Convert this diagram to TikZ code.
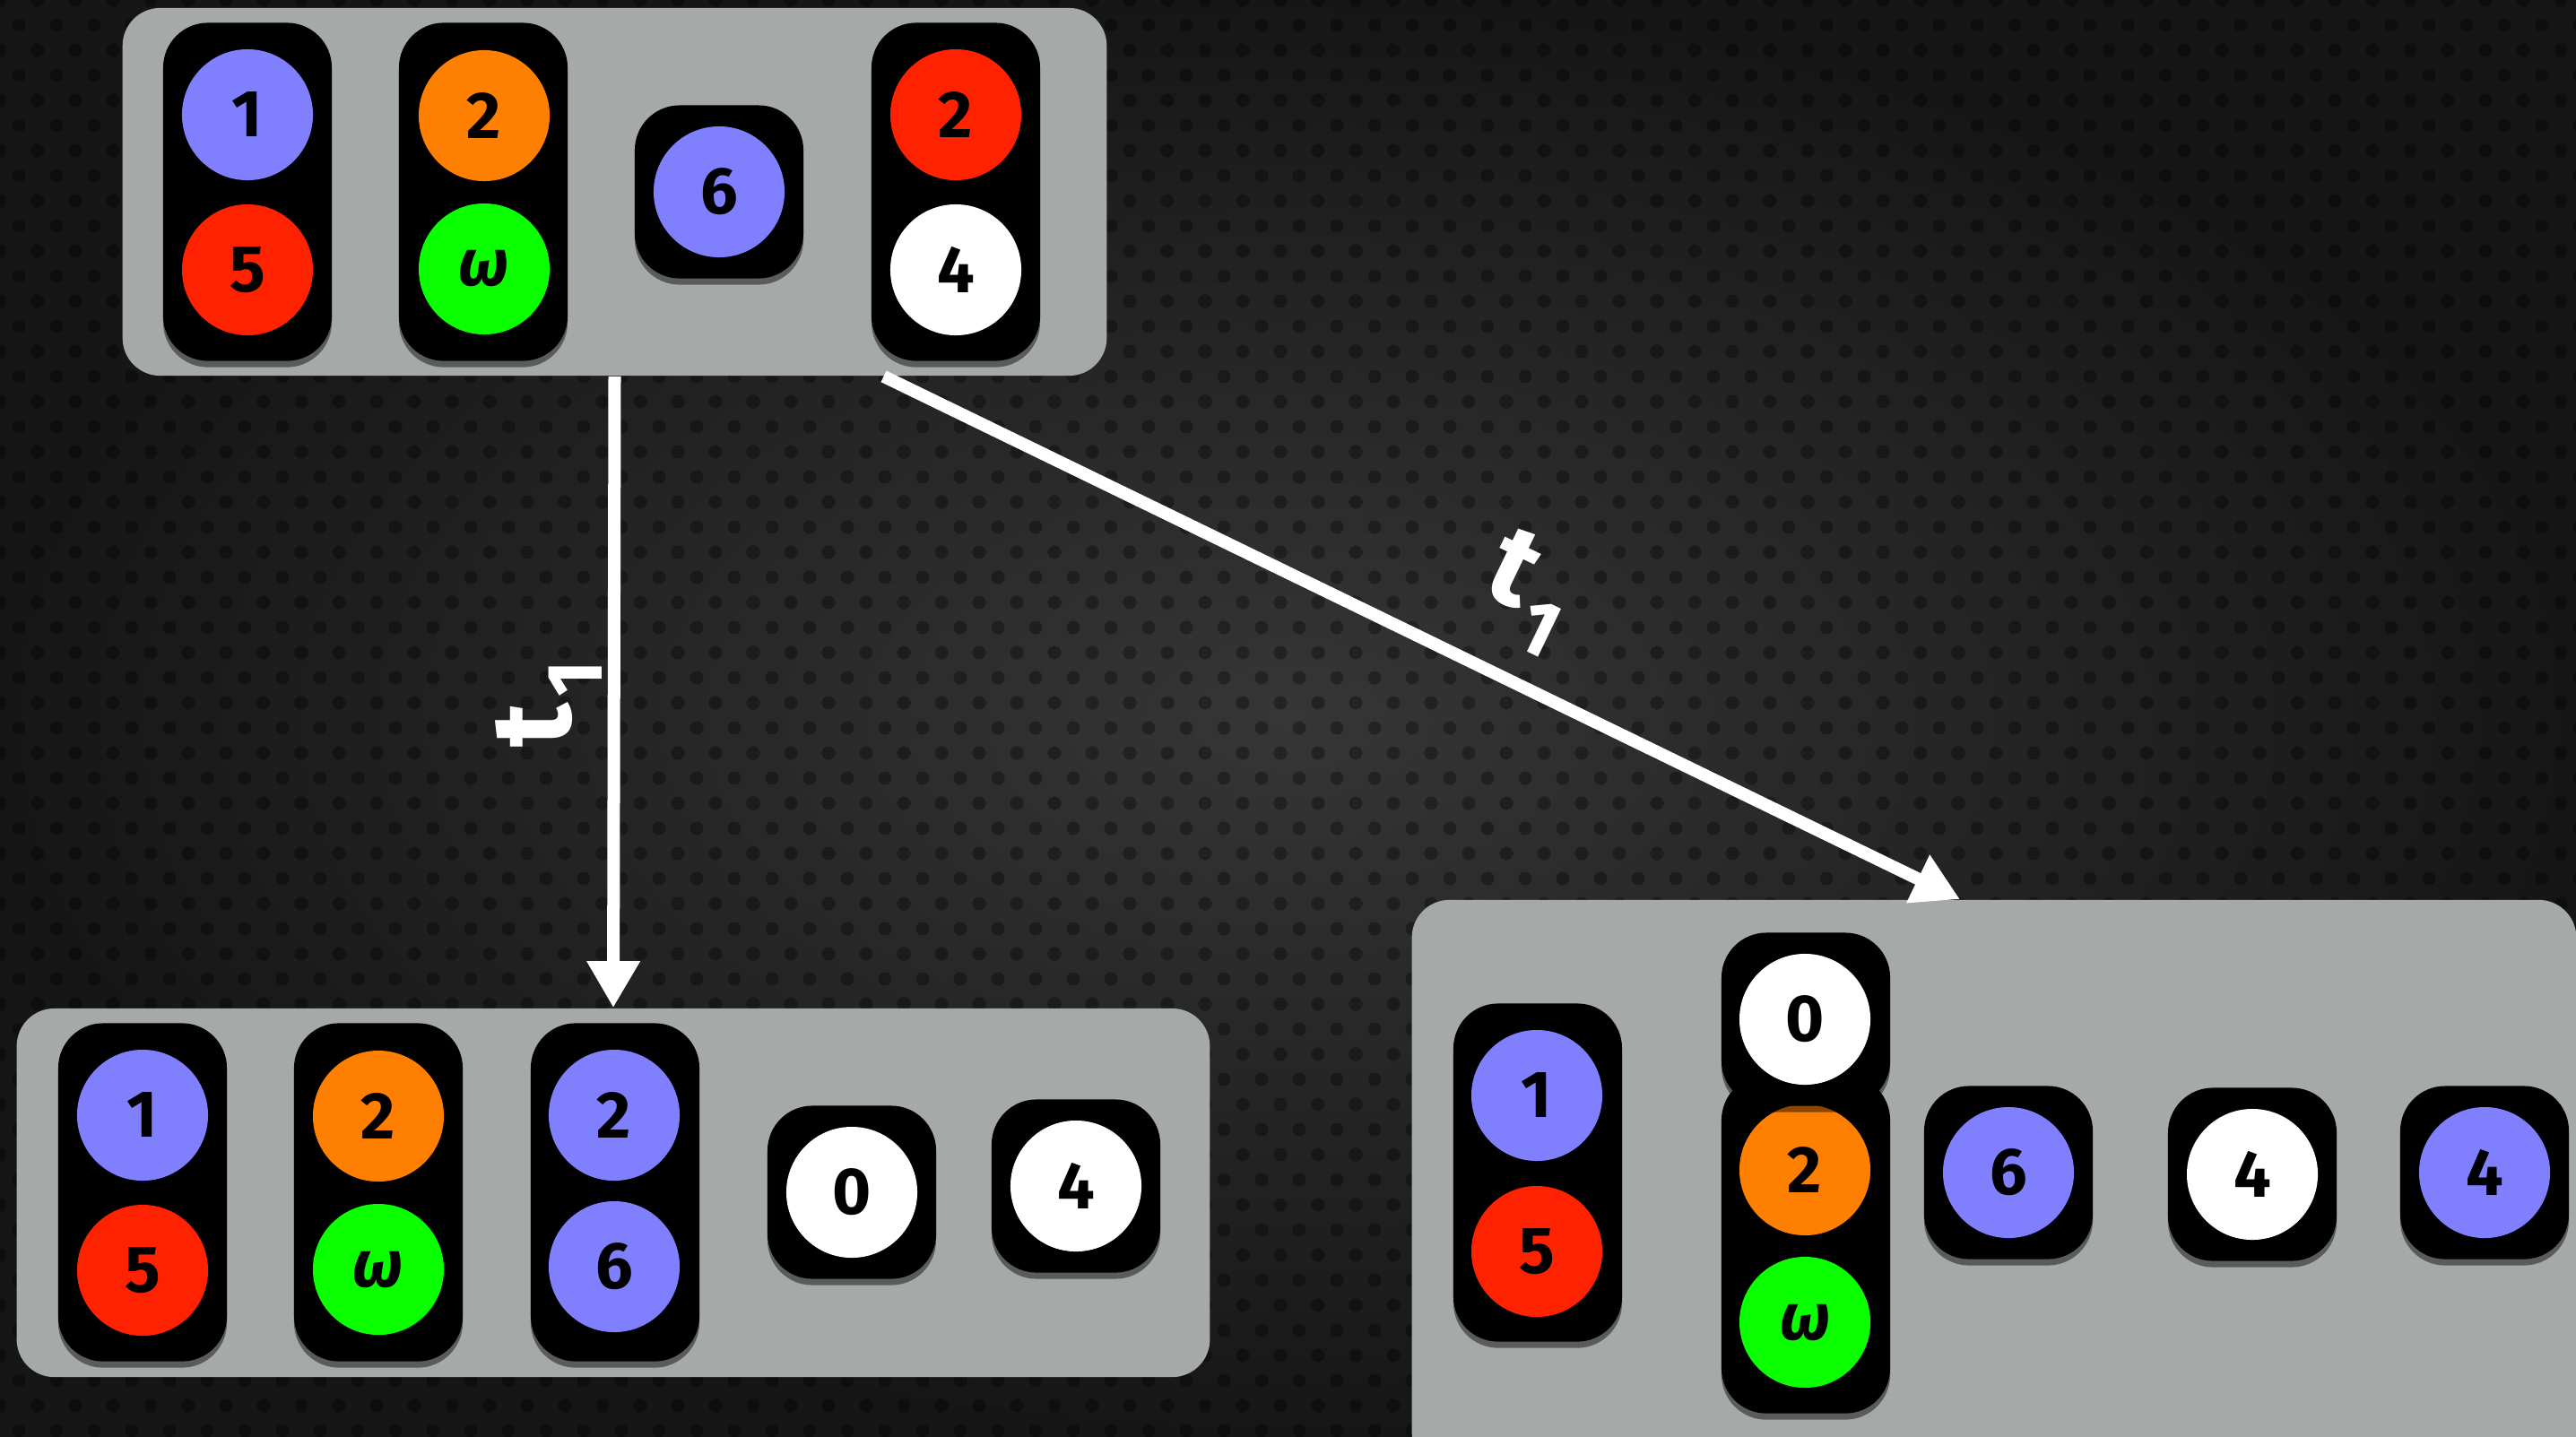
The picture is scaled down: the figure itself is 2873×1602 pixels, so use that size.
\documentclass[tikz,border=0pt]{standalone}
\usepackage{fontspec}
\setmainfont{Fira Sans}
\usetikzlibrary{arrows.meta,shadows,calc}
\definecolor{boxgrey}{HTML}{A5A9A8}
\definecolor{bpurple}{HTML}{8080FF}
\definecolor{bred}{HTML}{FF2200}
\definecolor{borange}{HTML}{FF8000}
\definecolor{bgreen}{HTML}{0AFF00}
\definecolor{bgin}{HTML}{363636}
\definecolor{bgout}{HTML}{161616}
\begin{document}
\begin{tikzpicture}[x=0.01cm,y=-0.01cm,
  grbox/.style={fill=boxgrey, rounded corners=0.42cm, inner sep=0pt, draw=none},
  pillbase/.style={fill=black, rounded corners=0.5cm, inner sep=0pt, minimum width=1.88cm,
     drop shadow={shadow xshift=0pt, shadow yshift=-0.07cm, opacity=0.45, fill=black}},
  pilltwo/.style={pillbase, minimum height=3.77cm},
  pillone/.style={pillbase, minimum height=1.93cm},
  ball/.style={circle, minimum size=1.46cm, inner sep=0pt, text=black,
     font=\fontsize{21}{25}\selectfont\bfseries},
  arr/.style={draw=white, line width=0.14cm, -{Triangle[length=0.52cm,width=0.56cm]}},
  lbl/.style={text=white, inner sep=0pt, font=\fontsize{36}{40}\selectfont\bfseries}
]
\useasboundingbox (0,0) rectangle (2873,1602);
% background
\shade[inner color=bgin, outer color=bgout] (0,0) rectangle (2873,1602);
\foreach \r in {0,...,57} {
  \fill[black, opacity=0.32] foreach \c in {0,...,69} {
   ({\c*42+mod(\r,2)*21},{\r*28}) circle[radius=7.5] };
}

% top box
\node[grbox, minimum width=10.97cm, minimum height=4.10cm] (top) at (685.5,214) {};
\node[pilltwo] (t1) at (276,214) {};
\node[ball, fill=bpurple] (t1a) at (276,128) {1};
\node[ball, fill=bred] (t1b) at (276,301) {5};
\node[pilltwo] (t2) at (539,214) {};
\node[ball, fill=borange] (t2a) at (540,129) {2};
\node[ball, fill=bgreen] (t2b) at (540,300) {\itshape ω};
\node[pillone] (t3) at (802,214) {};
\node[ball, fill=bpurple] (t3a) at (802,214) {6};
\node[pilltwo] (t4) at (1066,214) {};
\node[ball, fill=bred] (t4a) at (1066,128) {2};
\node[ball, fill=white] (t4b) at (1066,301) {4};

% bottom-left box
\node[grbox, minimum width=13.30cm, minimum height=4.11cm] (bl) at (684,1330.5) {};
\node[pilltwo] (a1) at (159,1330) {};
\node[ball, fill=bpurple] (a1a) at (159,1244) {1};
\node[ball, fill=bred] (a1b) at (159,1417) {5};
\node[pilltwo] (a2) at (422,1330) {};
\node[ball, fill=borange] (a2a) at (422,1245) {2};
\node[ball, fill=bgreen] (a2b) at (422,1416) {\itshape ω};
\node[pilltwo] (a3) at (686,1330) {};
\node[ball, fill=bpurple] (a3a) at (685,1244) {2};
\node[ball, fill=bpurple] (a3b) at (685,1413) {6};
\node[pillone] (a4) at (950,1330) {};
\node[ball, fill=white] (a4a) at (950,1330) {0};
\node[pillone] (a5) at (1200,1323) {};
\node[ball, fill=white] (a5a) at (1200,1323) {4};

% bottom-right box
\node[grbox, minimum width=12.98cm, minimum height=6.36cm] (br) at (2224,1322) {};
\node[pilltwo] (b1) at (1715,1308) {};
\node[ball, fill=bpurple] (b1a) at (1714,1222) {1};
\node[ball, fill=bred] (b1b) at (1714,1396) {5};
\node[pilltwo] (b2) at (2014,1388) {};
\node[ball, fill=borange] (b2a) at (2013,1305) {2};
\node[ball, fill=bgreen] (b2b) at (2013,1475) {\itshape ω};
\node[pillone] (b0) at (2014,1137) {};
\node[ball, fill=white] (b0a) at (2013,1137) {0};
\node[pillone] (b3) at (2240,1308) {};
\node[ball, fill=bpurple] (b3a) at (2240,1308) {6};
\node[pillone] (b4) at (2512,1310) {};
\node[ball, fill=white] (b4a) at (2512,1310) {4};
\node[pillone] (b5) at (2771,1308) {};
\node[ball, fill=bpurple] (b5a) at (2771,1308) {4};

% arrows
\draw[arr] (top.south) -- (bl.north);
\coordinate (d0) at ($(top.south west)!0.773!(top.south east)$);
\coordinate (d1) at ($(br.north west)+(612,0)$);
\draw[arr] (d0) -- (d1);

% labels
\node[lbl, rotate=90] (lab1) at (612,785) {t\kern0.06em\raisebox{-0.28em}{\fontsize{25}{28}\selectfont 1}};
\node[lbl, rotate=-25.7] (lab2) at (1704,660) {t\kern0.08em\raisebox{-0.3em}{\fontsize{25}{28}\selectfont 1}};
\end{tikzpicture}
\end{document}
